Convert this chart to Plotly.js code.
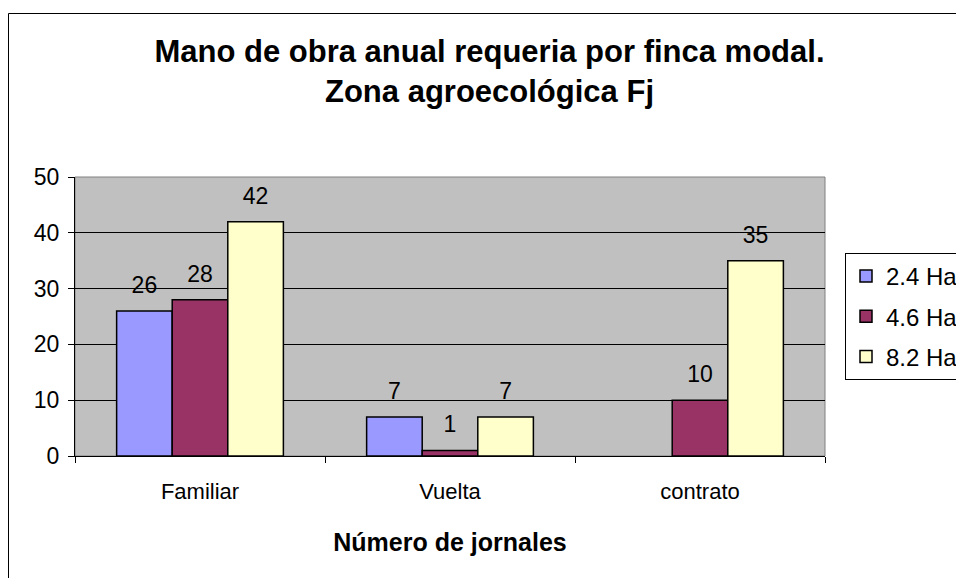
<!DOCTYPE html>
<html>
<head>
<meta charset="utf-8">
<script src="https://cdn.plot.ly/plotly-3.0.1.min.js"></script>
<style>html,body{margin:0;padding:0;background:#fff;}#chart{width:956px;height:578px;}</style>
</head>
<body>
<div id="chart"></div>
<script>
const categories = ["Familiar", "Vuelta", "contrato"];
const seriesNames = ["2.4 Ha", "4.6 Ha", "8.2 Ha"];
const s24 = [26, 7, null];
const s46 = [28, 1, 10];
const s82 = [42, 7, 35];
const seriesColors = ["#9999FF", "#993366", "#FFFFCC"];
const yTicks = [0, 10, 20, 30, 40, 50];

const FONT = "Liberation Sans, Arial, sans-serif";
const values = [s24, s46, s82];
const traces = values.map((v, i) => ({
  type: "bar",
  name: seriesNames[i],
  x: categories,
  y: v,
  legendgroup: "g" + i,
  marker: {color: seriesColors[i], line: {color: "#000", width: 1.5}},
  texttemplate: "<span style='font-size:23px'>%{y}</span><br>\u00a0",
  textposition: "outside",
  constraintext: "none",
  cliponaxis: false,
  textfont: {family: FONT, size: 10, color: "#000"},
  hoverinfo: "skip"
}));

const L = 75, R = 825, T = 177, B = 456, W = 956, H = 578;
const px = x => (x - L) / (R - L);
const py = y => (B - y) / (B - T);

const layout = {
  width: W, height: H,
  margin: {l: L, r: W - R, t: T, b: H - B, autoexpand: false},
  paper_bgcolor: "#fff",
  plot_bgcolor: "#C0C0C0",
  font: {family: FONT, size: 22, color: "#000"},
  title: {
    text: "<b>Mano de obra anual requeria por finca modal.<br>Zona agroecológica Fj</b>",
    font: {family: FONT, size: 31, color: "#000"},
    x: 489.5 / W, xanchor: "center", xref: "container",
    y: 1 - 62 / H, yanchor: "top", yref: "container"
  },
  barmode: "group",
  bargap: 0.333,
  bargroupgap: 0,
  showlegend: true,
  legend: {
    x: px(845), xanchor: "left", y: py(253), yanchor: "top",
    bgcolor: "#fff", bordercolor: "#000", borderwidth: 1,
    font: {family: FONT, size: 24, color: "#000"},
    traceorder: "grouped", tracegroupgap: 6, itemwidth: 30
  },
  xaxis: {
    type: "category",
    tickson: "boundaries",
    ticks: "outside", ticklen: 6, tickcolor: "#000", tickwidth: 1,
    showline: true, linecolor: "#000", linewidth: 1,
    showgrid: false, zeroline: false,
    tickfont: {family: FONT, size: 22, color: "#000"},
    ticklabelstandoff: 16,
    automargin: false,
    title: {text: "<b>Número de jornales</b>", font: {family: FONT, size: 25, color: "#000"}, standoff: 30}
  },
  yaxis: {
    range: [0, 50],
    tickvals: yTicks,
    ticks: "outside", ticklen: 6, tickcolor: "#000", tickwidth: 1,
    showline: true, linecolor: "#000", linewidth: 1,
    showgrid: true, gridcolor: "#000", gridwidth: 1,
    zeroline: false,
    tickfont: {family: FONT, size: 23, color: "#000"},
    ticklabelstandoff: 4,
    automargin: false
  },
  shapes: [
    {type: "rect", xref: "paper", yref: "paper", x0: 0, x1: 1, y0: 0, y1: 1,
     line: {color: "#808080", width: 1}, fillcolor: "rgba(0,0,0,0)", layer: "below"},
    {type: "rect", xref: "paper", yref: "paper", x0: px(8.5), x1: px(970), y0: py(13.5), y1: py(600),
     line: {color: "#000", width: 1}, fillcolor: "rgba(0,0,0,0)", layer: "above"}
  ]
};

Plotly.newPlot("chart", traces, layout, {displayModeBar: false, staticPlot: true});
</script>
</body>
</html>
